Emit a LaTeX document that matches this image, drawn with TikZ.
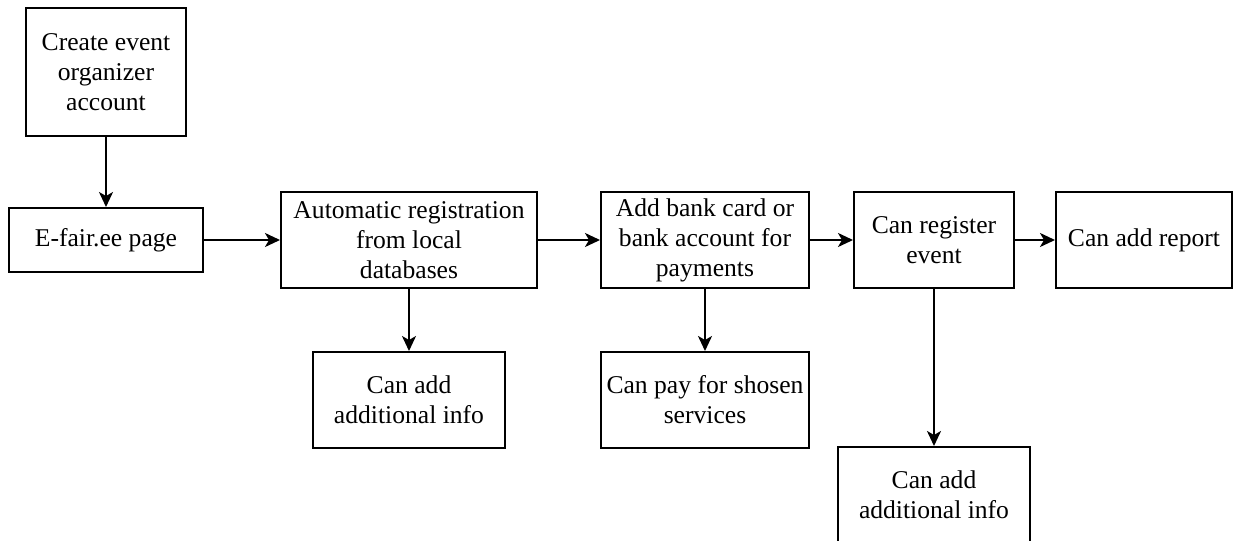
\documentclass[tikz,border=0pt]{standalone}
\usepackage{fontspec}
\setmainfont{Liberation Serif}
\usetikzlibrary{arrows.meta}

\tikzset{
  flowbox/.style={draw=black, line width=2pt, fill=white, inner sep=0pt,
    align=center, font=\fontsize{25.6}{30}\selectfont},
  flowarrow/.style={draw=black, line width=2pt,
    -{Stealth[length=15pt, width=14pt, inset=4pt]}}
}

\begin{document}
\begin{tikzpicture}[x=1pt, y=-1pt]
  % page frame
  \fill[white] (0,0) rectangle (1235,541);
  \useasboundingbox (0,0) rectangle (1235,541);
  \clip (0,0) rectangle (1235,541);

  % boxes
  \node[flowbox, minimum width=160pt, minimum height=128pt] (create) at (106,72)
    {Create event\\organizer\\account};
  \node[flowbox, minimum width=194pt, minimum height=64pt] (efair) at (106,240)
    {E-fair.ee page};
  \node[flowbox, minimum width=256pt, minimum height=96pt] (auto) at (409,240)
    {Automatic registration\\from local\\databases};
  \node[flowbox, minimum width=192pt, minimum height=96pt] (info1) at (409,400)
    {Can add\\additional info};
  \node[flowbox, minimum width=208pt, minimum height=96pt] (bank) at (705,240)
    {Add bank card or\\bank account for\\payments};
  \node[flowbox, minimum width=208pt, minimum height=96pt] (pay) at (705,400)
    {Can pay for shosen\\services};
  \node[flowbox, minimum width=160pt, minimum height=96pt] (register) at (934,240)
    {Can register\\event};
  \node[flowbox, minimum width=176pt, minimum height=96pt] (report) at (1144,240)
    {Can add report};
  \node[flowbox, minimum width=192pt, minimum height=96pt] (info2) at (934,495)
    {Can add\\additional info};

  % connectors
  \draw[flowarrow] (create.south) -- (efair.north);
  \draw[flowarrow] (efair.east) -- (auto.west);
  \draw[flowarrow] (auto.east) -- (bank.west);
  \draw[flowarrow] (bank.east) -- (register.west);
  \draw[flowarrow] (register.east) -- (report.west);
  \draw[flowarrow] (auto.south) -- (info1.north);
  \draw[flowarrow] (bank.south) -- (pay.north);
  \draw[flowarrow] (register.south) -- (info2.north);
\end{tikzpicture}
\end{document}
